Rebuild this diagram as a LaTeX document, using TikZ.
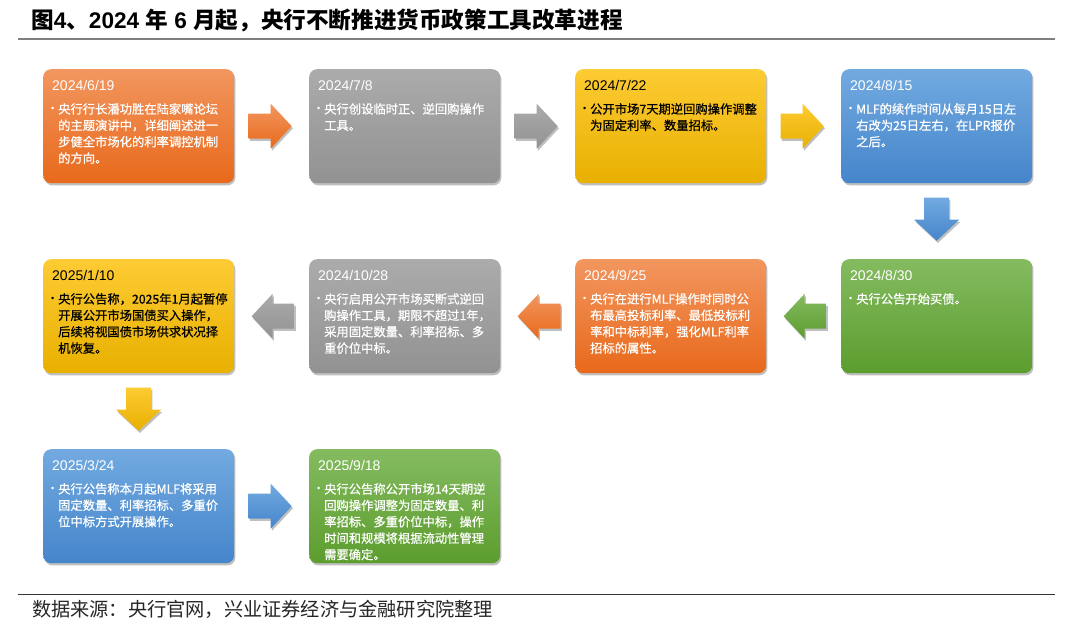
\documentclass[tikz,border=0pt]{standalone}
\usepackage{fontspec}
\setmainfont{Liberation Sans}
\newfontfamily\cjk{Noto Sans CJK SC}
\newfontfamily\cjkbody{Noto Sans CJK SC}[FakeBold=0.7]
\usetikzlibrary{calc,shadows}
\definecolor{orT}{HTML}{F2965F}\definecolor{orB}{HTML}{E8691B}
\definecolor{grT}{HTML}{ABABAB}\definecolor{grB}{HTML}{929292}
\definecolor{yeT}{HTML}{FDCB33}\definecolor{yeB}{HTML}{E8B000}
\definecolor{blT}{HTML}{72AAE0}\definecolor{blB}{HTML}{4585CB}
\definecolor{gnT}{HTML}{84BB60}\definecolor{gnB}{HTML}{5C9D2E}
\definecolor{ruleG}{HTML}{7F7F7F}
\tikzset{
  cOr/.style={top color=orT,bottom color=orB},
  cGr/.style={top color=grT,bottom color=grB},
  cYe/.style={top color=yeT,bottom color=yeB},
  cBl/.style={top color=blT,bottom color=blB},
  cGn/.style={top color=gnT,bottom color=gnB},
  sh/.style={drop shadow={shadow xshift=1.2pt,shadow yshift=-2.2pt,opacity=0.25,fill=black}},
  card/.style={rounded corners=8pt,minimum width=191pt,minimum height=114pt,inner sep=0pt,draw=none,sh},
  datef/.style={font=\fontsize{14}{16}\selectfont,inner sep=0pt},
  bodyf/.style={font=\cjkbody\fontsize{12.3}{16.4}\selectfont,align=left,inner sep=0pt},
  bulf/.style={font=\fontsize{9}{10}\selectfont,inner sep=0pt},
}
\newcommand\mkcard[7]{%
  \node[card,#4,anchor=north west] (#1) at (#2,#3) {};
  \node[datef,text=#5,anchor=base west] (#1d) at ($(#1.north west)+(9,21)$) {#6};
  \node[bulf,text=#5,anchor=base west] (#1u) at ($(#1.north west)+(8,42.5)$) {•};
  \node[bodyf,text=#5,anchor=north west] (#1b) at ($(#1.north west)+(15,34)$) {#7};
}
\newcommand\arR[2]{\path[#2,sh,shift={(#1)}] (-21.5,-12.5) -- (0.5,-12.5) -- (0.5,-22.5) -- (21.5,0) -- (0.5,22.5) -- (0.5,12.5) -- (-21.5,12.5) -- cycle;}
\newcommand\arL[2]{\path[#2,sh,shift={(#1)}] (21.5,-12.5) -- (-0.5,-12.5) -- (-0.5,-22.5) -- (-21.5,0) -- (-0.5,22.5) -- (-0.5,12.5) -- (21.5,12.5) -- cycle;}
\newcommand\arD[2]{\path[#2,sh,shift={(#1)}] (-12.5,-21.5) -- (12.5,-21.5) -- (12.5,0.5) -- (22.5,0.5) -- (0,21.5) -- (-22.5,0.5) -- (-12.5,0.5) -- cycle;}
\begin{document}
\begin{tikzpicture}[x=1pt,y=-1pt]
\useasboundingbox[fill=white] (0,0) rectangle (1080,635);
% title
\node[anchor=base west,inner sep=0pt,font=\bfseries\fontsize{22.6}{25}\selectfont] (title) at (31,28)
  {{\cjk\bfseries 图}4{\cjk\bfseries 、}2024 {\cjk\bfseries 年} 6 {\cjk\bfseries 月起，央行不断推进货币政策工具改革进程}};
\coordinate (r1a) at (18,38.5); \coordinate (r1b) at (1055,38.5);
\draw[ruleG,line width=2pt] (r1a) -- (r1b);
\coordinate (r2a) at (18,594); \coordinate (r2b) at (1055,594);
\draw[black!80,line width=1pt] (r2a) -- (r2b);
\node[anchor=base west,inner sep=0pt,font=\cjk\fontsize{19.2}{21}\selectfont,text=black!85] (src) at (32,616)
  {数据来源：央行官网，兴业证券经济与金融研究院整理};
% cards
\mkcard{b1}{43}{69}{cOr}{white}{2024/6/19}{央行行长潘功胜在陆家嘴论坛\\的主题演讲中，详细阐述进一\\步健全市场化的利率调控机制\\的方向。}
\mkcard{b2}{309}{69}{cGr}{white}{2024/7/8}{央行创设临时正、逆回购操作\\工具。}
\mkcard{b3}{575}{69}{cYe}{black}{2024/7/22}{公开市场7天期逆回购操作调整\\为固定利率、数量招标。}
\mkcard{b4}{841}{69}{cBl}{white}{2024/8/15}{MLF的续作时间从每月15日左\\右改为25日左右，在LPR报价\\之后。}
\mkcard{b5}{841}{259}{cGn}{white}{2024/8/30}{央行公告开始买债。}
\mkcard{b6}{575}{259}{cOr}{white}{2024/9/25}{央行在进行MLF操作时同时公\\布最高投标利率、最低投标利\\率和中标利率，强化MLF利率\\招标的属性。}
\mkcard{b7}{309}{259}{cGr}{white}{2024/10/28}{央行启用公开市场买断式逆回\\购操作工具，期限不超过1年，\\采用固定数量、利率招标、多\\重价位中标。}
\mkcard{b8}{43}{259}{cYe}{black}{2025/1/10}{央行公告称，2025年1月起暂停\\开展公开市场国债买入操作，\\后续将视国债市场供求状况择\\机恢复。}
\mkcard{b9}{43}{449}{cBl}{white}{2025/3/24}{央行公告称本月起MLF将采用\\固定数量、利率招标、多重价\\位中标方式开展操作。}
\mkcard{b10}{309}{449}{cGn}{white}{2025/9/18}{央行公告称公开市场14天期逆\\回购操作调整为固定数量、利\\率招标、多重价位中标，操作\\时间和规模将根据流动性管理\\需要确定。}
% arrows
\coordinate (a1) at ($(b1.east)!0.5!(b2.west)+(-1.5,0)$);
\coordinate (a2) at ($(b2.east)!0.5!(b3.west)+(-1.5,0)$);
\coordinate (a3) at ($(b3.east)!0.5!(b4.west)+(-1.5,0)$);
\coordinate (a4) at ($(b4.south)!0.5!(b5.north)+(0,-2)$);
\coordinate (a5) at ($(b5.west)!0.5!(b6.east)+(1.5,0)$);
\coordinate (a6) at ($(b6.west)!0.5!(b7.east)+(1.5,0)$);
\coordinate (a7) at ($(b7.west)!0.5!(b8.east)+(1.5,0)$);
\coordinate (a8) at ($(b8.south)!0.5!(b9.north)+(0,-2)$);
\coordinate (a9) at ($(b9.east)!0.5!(b10.west)+(-1.5,0)$);
\arR{a1}{cOr}
\arR{a2}{cGr}
\arR{a3}{cYe}
\arD{a4}{cBl}
\arL{a5}{cGn}
\arL{a6}{cOr}
\arL{a7}{cGr}
\arD{a8}{cYe}
\arR{a9}{cBl}
\end{tikzpicture}
\end{document}
